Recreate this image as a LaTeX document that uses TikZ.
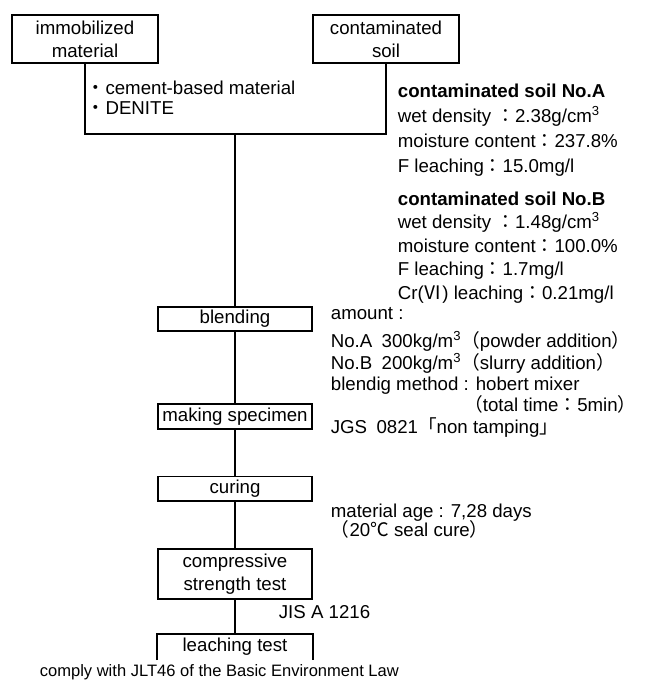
\documentclass[tikz,border=0pt]{standalone}
\usepackage{fontspec}
\setmainfont{Liberation Sans}
\newfontfamily\jpfont{Noto Sans CJK JP}
\newcommand{\jp}[1]{{\jpfont #1}}
\usepackage{tikz}
\usetikzlibrary{positioning}

\begin{document}
\begin{tikzpicture}[x=0.75pt, y=-0.75pt, line width=1.3pt, font=\fontsize{14}{17}\selectfont]
\tikzstyle{source}=[draw, minimum width=110pt, minimum height=36pt, inner sep=1pt, align=center]
\tikzstyle{stage}=[draw, minimum width=116pt, minimum height=18.5pt, inner xsep=2pt, inner ysep=0pt, align=center]
\tikzstyle{remark}=[inner sep=0pt, align=left]
\useasboundingbox (0,0) rectangle (645,680);
% materials
\node[source] (im) at (85,39) {immobilized\\material};
\node[source] (cs) at (386,39) {contaminated\\soil};
\coordinate (jn) at (235,134);
\node[remark, anchor=north west, font=\fontsize{14}{15}\selectfont] (binder) at (86,80)
  {\jp{・}cement-based material\\\jp{・}DENITE};
\node[remark, anchor=north west, font=\fontsize{14}{18.75}\selectfont] (soilA) at (397,83)
  {\textbf{contaminated soil No.A}\\
  wet density \jp{：}2.38g/cm\textsuperscript{3}\\
  moisture content\jp{：}237.8\%\\
  F leaching\jp{：}15.0mg/l};
\node[remark, anchor=north west, font=\fontsize{14}{17.6}\selectfont] (soilB) at (397,191)
  {\textbf{contaminated soil No.B}\\
  wet density \jp{：}1.48g/cm\textsuperscript{3}\\
  moisture content\jp{：}100.0\%\\
  F leaching\jp{：}1.7mg/l\\
  Cr(\jp{Ⅵ}) leaching\jp{：}0.21mg/l};
% process
\node[stage] (blend) at (235,319) {blending};
\node[stage, below=53.25pt of blend] (make) {making specimen};
\node[stage, below=34.5pt of make] (cure) {curing};
\node[stage, below=34.5pt of cure, minimum height=37.5pt] (comp) {compressive\\strength test};
\node[stage, draw=none, below=25.5pt of comp] (leach) {leaching test};
\node[remark, anchor=north west, font=\fontsize{14}{16}\selectfont] (mix) at (330,307)
  {amount :\\[5pt]
  No.A\enspace 300kg/m\textsuperscript{3}\jp{（}powder addition\jp{）}\\
  No.B\enspace 200kg/m\textsuperscript{3}\jp{（}slurry addition\jp{）}\\
  blendig method : hobert mixer\\
  \hspace{100pt}\jp{（}total time\jp{：}5min\jp{）}\\
  JGS\enspace 0821\jp{「}non tamping\jp{」}};
\node[remark, anchor=north west] (age) at (330,503) {material age : 7,28 days\\[-3pt]
  \jp{（}20\jp{℃} seal cure\jp{）}};
\node[remark, anchor=west] (jis) at (278,612) {JIS A 1216};
\node[remark, anchor=west, font=\fontsize{12.4}{15}\selectfont] (law) at (39,672)
  {comply with JLT46 of the Basic Environment Law};
% connectors
\draw (im.south) -- (im.south |- jn) -- (cs.south |- jn) -- (cs.south);
\draw (jn) -- (blend);
\draw (blend) -- (make);
\draw (make) -- (cure);
\draw (cure) -- (comp);
\draw (comp) -- (leach.north);
\draw (leach.south west) -- (leach.north west) -- (leach.north east) -- (leach.south east);
\end{tikzpicture}
\end{document}
